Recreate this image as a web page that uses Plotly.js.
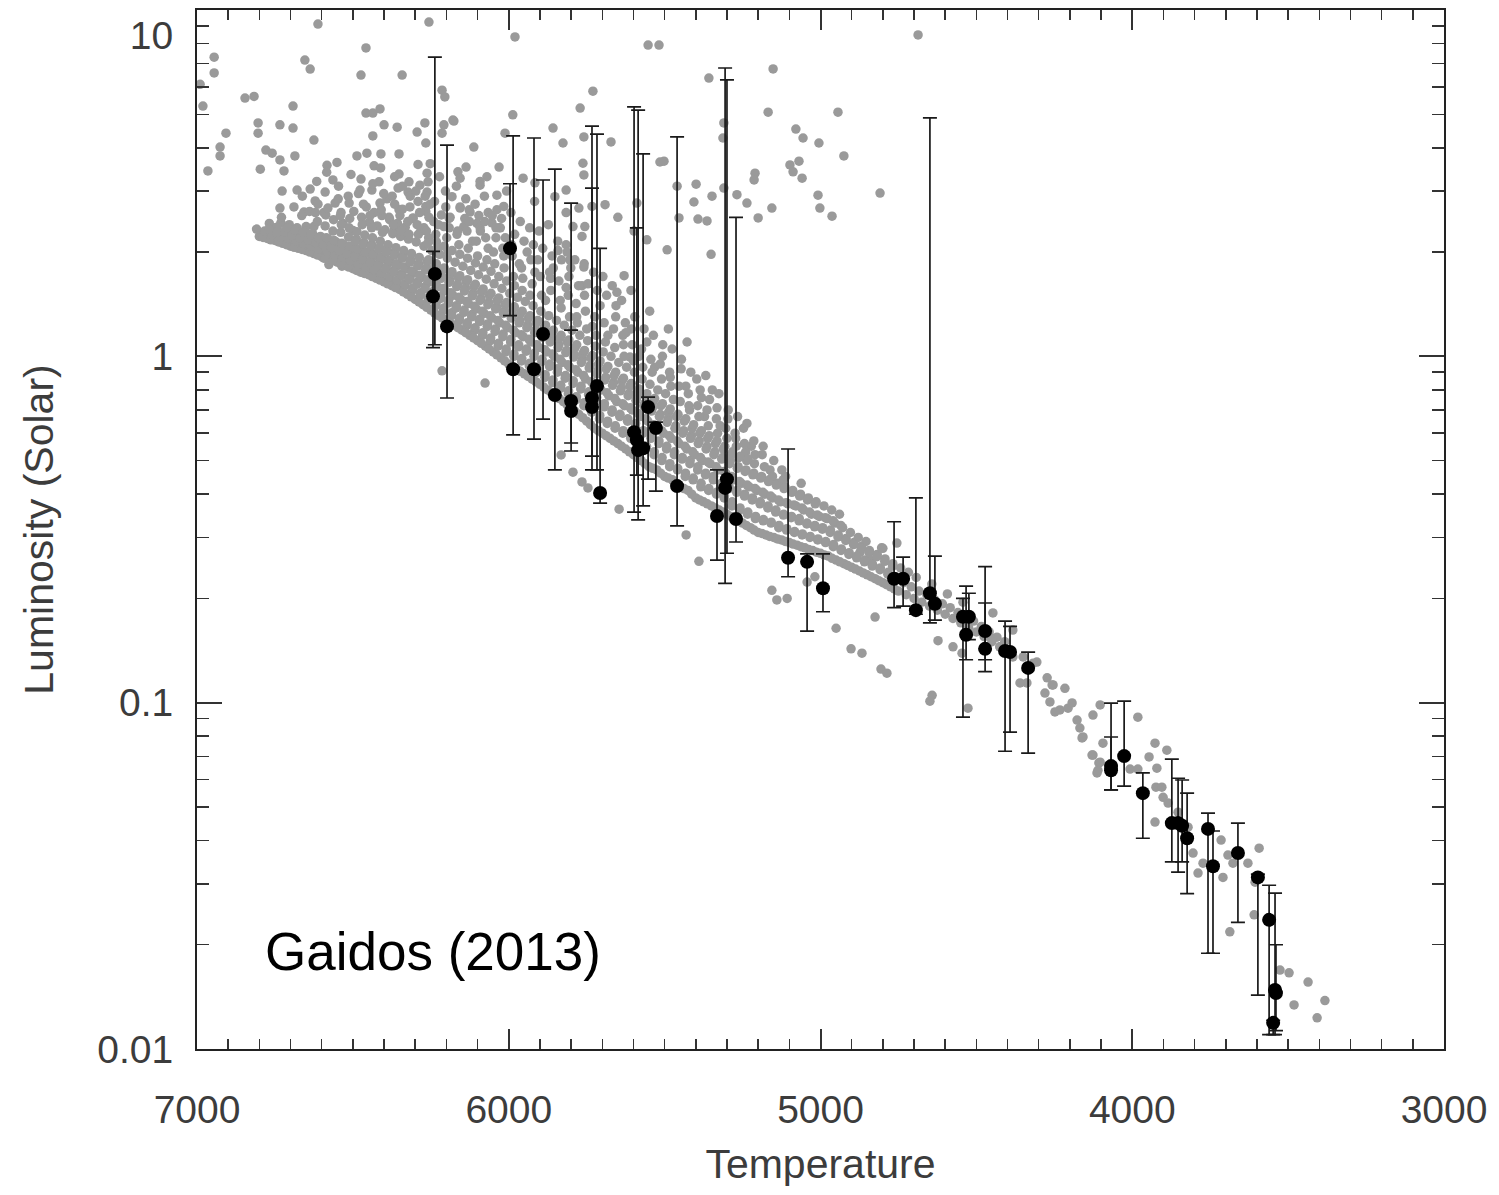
<!DOCTYPE html>
<html>
<head>
<meta charset="utf-8">
<script src="https://cdn.plot.ly/plotly-3.0.1.min.js"></script>
<style>html,body{margin:0;padding:0;background:#fff;}#chart{width:1499px;height:1195px;}</style>
</head>
<body>
<div id="chart"></div>
<script>
// ---- Black stars with error bars: temperature (K), luminosity (solar), upper / lower bounds ----
const blackTemp = [6237,6243,6198,5996,5986,5919,5890,5852,5800,5800,5733,5733,5717,5707,5598,5585,5589,5569,5553,5528,5460,5332,5306,5300,5271,5104,5043,4992,4764,4735,4694,4649,4633,4543,4524,4533,4472,4472,4408,4392,4334,4068,4068,4026,3966,3873,3853,3840,3824,3757,3741,3661,3597,3561,3542,3539,3548];
const blackLum = [1.73,1.49,1.22,2.05,0.918,0.918,1.16,0.773,0.743,0.695,0.758,0.714,0.821,0.403,0.604,0.536,0.573,0.543,0.714,0.621,0.422,0.346,0.417,0.442,0.339,0.262,0.255,0.214,0.228,0.228,0.185,0.207,0.193,0.177,0.177,0.157,0.161,0.143,0.141,0.140,0.126,0.0656,0.0638,0.0701,0.0548,0.0449,0.0449,0.0441,0.0406,0.0432,0.0337,0.0368,0.0313,0.0236,0.0148,0.0145,0.0119];
const lumUpper = [7.31,2.01,4.07,3.15,4.33,4.27,3.23,3.47,2.77,1.19,4.62,3.06,4.38,2.05,5.25,5.14,2.35,3.84,0.762,0.646,4.30,0.470,6.80,6.28,2.52,0.540,0.269,0.269,0.333,0.263,0.390,4.88,0.265,0.200,0.207,0.217,0.247,0.194,0.172,0.166,0.140,0.0997,0.0796,0.101,0.0627,0.0687,0.0605,0.0598,0.0548,0.0480,0.0426,0.0449,0.0320,0.0297,0.0282,0.0200,0.0121];
const lumLower = [1.08,1.06,0.758,1.31,0.593,0.577,0.659,0.470,0.533,0.562,0.470,0.515,0.470,0.377,0.355,0.337,0.454,0.370,0.442,0.408,0.324,0.258,0.221,0.270,0.291,0.231,0.161,0.183,0.188,0.190,0.180,0.170,0.173,0.0908,0.152,0.133,0.123,0.133,0.0724,0.0822,0.0715,0.0560,0.0560,0.0574,0.0406,0.0347,0.0324,0.0347,0.0281,0.0189,0.0189,0.0232,0.0143,0.0110,0.0110,0.0113,0.0110];

// ---- Gray comparison stars: [temperature (K), luminosity (solar)] ----
const grayStars = [
[6945,7.31],[6945,6.58],[6981,5.28],[6990,6.1],[6907,4.41],[6926,4.02],[6926,3.79],[6965,3.43],[6846,5.57],[6817,5.63],[6692,5.28],[6654,7.17],[6637,6.75],[6612,9.11],[6458,7.77],[6474,6.49],[6342,6.49],[6256,9.23],[5980,8.36],
[6804,4.72],[6804,4.41],[6734,4.66],[6692,4.56],[6779,3.94],[6759,3.86],[6797,3.47],[6721,3.43],[6734,3.69],[6686,3.79],[6625,4.21],[6727,3.00],[6734,2.68],[6679,3.02],[6637,3.04],[6766,2.21],[6747,2.35],[6702,2.31],[6731,2.43],[6657,2.14],[6657,2.61],[6650,2.37],[6621,2.81],[6625,2.37],[6593,1.92],[6577,1.84],[6589,2.98],[6593,2.60],[6583,3.56],[6564,3.23],[6551,3.63],[6557,2.77],[6538,2.60],[6532,2.42],[6512,2.77],[6500,2.31],[6506,2.00],[6535,1.82],[6487,3.79],[6458,5.04],[6436,5.04],[6413,5.18],[6455,3.86],[6436,4.33],[6400,4.66],[6410,3.84],[6432,3.55],[6416,3.19],[6477,3.02],[6439,3.02],[6413,2.77],[6384,2.52],[6368,2.31],[6352,2.28],[6358,4.59],[6352,3.84],[6352,3.36],[6355,3.06],[6352,2.65],[6320,3.19],[6323,2.98],[6307,2.51],[6294,4.44],[6291,3.58],[6285,3.12],[6266,4.13],[6269,4.72],[6262,3.38],[6259,3.19],[6262,2.98],[6266,2.71],[6272,2.35],[6214,5.87],[6205,5.61],[6176,4.78],[6214,4.41],[6208,4.66],[6163,3.41],[6137,3.52],[6112,4.02],[6031,3.52],[6156,3.27],[6092,3.12],[6070,3.30],[6038,2.92],[5987,4.98],[6012,4.41],[6182,2.89],[6156,2.68],[6124,2.61],[6188,2.52],[6208,2.37],[6144,2.37],[6102,2.42],[6092,2.35],[6038,2.65],[6016,2.71],[6054,2.43],[6031,2.35],
[6179,4.81],[5858,4.56],[5826,4.13],[5730,5.83],[5771,5.21],[5759,4.30],[5762,3.61],[5759,3.34],[5672,4.16],[5650,2.52],[5954,3.27],[5916,3.17],[5816,3.02],[5852,2.89],[5816,2.60],[5775,2.68],[5794,2.37],[5756,2.37],[5765,2.22],[5733,2.71],[5816,2.10],[5842,2.02],[5804,1.90],[5759,1.81],[5765,1.60],[5624,1.17],[5611,0.995],[5630,1.71],[5653,1.53],[5492,2.03],[5515,3.64],[5557,2.17],[5589,2.77],
[5553,7.92],[5518,7.92],[5358,6.36],[5502,3.66],[5691,2.74],[5598,2.30],[5460,3.10],[5399,3.14],[5406,2.79],[5454,2.51],[5393,2.49],
[4687,8.47],[4809,2.96],[5152,6.76],[4944,5.07],[5168,5.07],[5079,4.53],[5056,4.27],[5005,4.13],[4925,3.79],[5098,3.57],[5088,3.41],[5069,3.66],[5059,3.27],[5210,3.38],[5213,3.23],[5008,2.92],[5002,2.68],[4963,2.54],[5348,2.90],[5268,2.93],[5236,2.77],[5200,2.51],[5156,2.68],[5364,2.46],[5351,1.97],[5310,4.72],[5313,4.27],[5310,3.06],
[6214,0.908],[6076,0.837],[5832,0.519],[5794,0.463],[5765,0.434],[5746,0.417],[5646,0.362],[5431,0.305],[5390,0.256],[5156,0.211],[5140,0.198],[5107,0.200],[5043,0.223],[5018,0.231],[4950,0.164],[4902,0.143],[4867,0.139],[4825,0.1767],[4806,0.125],[4787,0.1217],[4642,0.105],[4649,0.101],[4623,0.151],[4575,0.145],[4546,0.139],[4527,0.0964],
[4873,0.272],[4841,0.258],[4800,0.279],[4755,0.289],[4273,0.118],[4257,0.1125],[4216,0.110],[4280,0.1066],[4264,0.1005],[4232,0.0953],[4206,0.0964],[4177,0.0891],[4168,0.0845],[4158,0.0796],[4126,0.0921],[4103,0.0985],[4126,0.0706],[4107,0.0670],[4113,0.0627],[4306,0.131],[4338,0.114],[4447,0.1816],[4434,0.1545],[4383,0.162],[4350,0.1355],
[4456,0.1545],[4424,0.145],[4383,0.1355],[4318,0.130],[4360,0.114],
[4254,0.1125],[4248,0.0940],[4193,0.0998],[4161,0.0791],[4094,0.0764],[4129,0.0706],[4110,0.0638],[4103,0.0673],[3982,0.0908],[3982,0.0643],[4007,0.0643],[3946,0.0697],[3927,0.0764],[3921,0.0647],[3889,0.0729],[3927,0.0452],[3924,0.0570],[3905,0.0570],[3901,0.0533],[3885,0.0513],[3853,0.0483],[3821,0.0437],[3805,0.0368],[3789,0.0322],[3773,0.0344],[3715,0.0401],[3693,0.0363],[3677,0.0344],[3687,0.0218],[3629,0.0344],[3593,0.0380],[3609,0.0244],[3606,0.0303],[3526,0.0169],[3497,0.0166],[3436,0.0156],[3481,0.0134],[3382,0.0138],[3407,0.0123],[3709,0.0313],
[6800,2.22],[6809,2.33],
[6775,2.19],[6784,2.28],[6768,2.42],
[6750,2.16],[6759,2.25],[6743,2.36],
[6725,2.12],[6734,2.2],[6718,2.3],[6729,2.52],
[6700,2.08],[6709,2.17],[6693,2.27],[6704,2.4],[6689,2.7],
[6675,2.05],[6684,2.13],[6668,2.22],[6679,2.35],[6664,2.55],
[6650,2.02],[6659,2.1],[6643,2.2],[6654,2.3],[6639,2.62],[6662,2.9],
[6625,1.98],[6634,2.06],[6618,2.15],[6629,2.26],[6614,2.45],
[6600,1.94],[6609,2.03],[6593,2.12],[6604,2.22],[6589,2.38],[6612,2.75],
[6575,1.91],[6584,1.99],[6568,2.08],[6579,2.18],[6564,2.3],[6587,2.56],
[6550,1.87],[6559,1.95],[6543,2.04],[6554,2.14],[6539,2.28],[6562,2.48],[6547,2.85],
[6525,1.83],[6534,1.91],[6518,2.0],[6529,2.1],[6514,2.21],[6537,2.4],
[6500,1.79],[6509,1.87],[6493,1.96],[6504,2.06],[6489,2.18],[6512,2.35],[6497,2.62],
[6475,1.75],[6484,1.83],[6468,1.92],[6479,2.02],[6464,2.13],[6487,2.29],[6472,2.52],[6482,2.95],
[6450,1.72],[6459,1.8],[6443,1.89],[6454,1.99],[6439,2.1],[6462,2.24],[6447,2.44],[6457,2.7],
[6425,1.68],[6434,1.76],[6418,1.85],[6429,1.95],[6414,2.06],[6437,2.2],[6422,2.38],[6432,2.6],
[6400,1.64],[6409,1.72],[6393,1.81],[6404,1.91],[6389,2.02],[6412,2.15],[6397,2.32],[6407,2.55],[6391,2.85],
[6375,1.6],[6384,1.68],[6368,1.77],[6379,1.87],[6364,1.98],[6387,2.1],[6372,2.26],[6382,2.48],[6366,2.75],
[6350,1.56],[6359,1.64],[6343,1.73],[6354,1.83],[6339,1.94],[6362,2.06],[6347,2.22],[6357,2.42],[6341,2.66],
[6325,1.51],[6334,1.6],[6318,1.69],[6329,1.79],[6314,1.9],[6337,2.02],[6322,2.18],[6332,2.36],[6316,2.9],
[6300,1.46],[6309,1.55],[6293,1.64],[6304,1.74],[6289,1.85],[6312,1.98],[6297,2.14],[6307,2.5],[6291,2.8],
[6275,1.41],[6284,1.5],[6268,1.59],[6279,1.69],[6264,1.8],[6287,1.93],[6272,2.08],[6282,2.3],[6266,2.62],
[6250,1.36],[6259,1.45],[6243,1.54],[6254,1.64],[6239,1.75],[6262,1.88],[6247,2.02],[6257,2.2],[6241,2.45],[6252,2.75],
[6225,1.31],[6234,1.4],[6218,1.49],[6229,1.59],[6214,1.7],[6237,1.83],[6222,1.97],[6232,2.14],[6216,2.56],
[6200,1.27],[6209,1.36],[6193,1.45],[6204,1.55],[6189,1.66],[6212,1.78],[6197,1.92],[6207,2.08],[6191,2.35],[6202,2.7],
[6175,1.23],[6184,1.31],[6168,1.4],[6179,1.5],[6164,1.61],[6187,1.73],[6172,1.87],[6182,2.02],[6166,2.25],
[6150,1.19],[6159,1.27],[6143,1.36],[6154,1.46],[6139,1.57],[6162,1.69],[6147,1.82],[6157,1.97],[6141,2.5],
[6125,1.15],[6134,1.23],[6118,1.32],[6129,1.42],[6114,1.52],[6137,1.64],[6122,1.77],[6132,1.92],[6116,2.15],[6127,2.65],
[6100,1.11],[6109,1.19],[6093,1.28],[6104,1.37],[6089,1.47],[6112,1.59],[6097,1.72],[6107,1.86],[6091,2.3],
[6075,1.07],[6084,1.15],[6068,1.24],[6079,1.33],[6064,1.43],[6087,1.54],[6072,1.67],[6082,1.81],[6066,2.05],[6077,2.45],
[6050,1.03],[6059,1.11],[6043,1.2],[6054,1.29],[6039,1.39],[6062,1.5],[6047,1.62],[6057,1.76],[6041,2.2],
[6025,0.99],[6034,1.07],[6018,1.16],[6029,1.25],[6014,1.35],[6037,1.45],[6022,1.57],[6032,1.7],[6016,1.95],[6027,2.35],
[6000,0.95],[6009,1.03],[5993,1.12],[6004,1.21],[5989,1.31],[6012,1.41],[5997,1.52],[6007,1.65],[5991,2.1],
[5975,0.92],[5984,1.0],[5968,1.08],[5979,1.17],[5964,1.27],[5987,1.37],[5972,1.48],[5982,1.6],[5966,1.85],
[5950,0.89],[5959,0.97],[5943,1.05],[5954,1.14],[5939,1.23],[5962,1.33],[5947,1.44],[5957,1.55],[5941,2.0],
[5925,0.86],[5934,0.94],[5918,1.02],[5929,1.1],[5914,1.19],[5937,1.29],[5922,1.4],[5932,1.5],[5916,1.75],
[5900,0.83],[5909,0.9],[5893,0.98],[5904,1.06],[5889,1.15],[5912,1.25],[5897,1.35],[5907,1.9],
[5875,0.8],[5884,0.87],[5868,0.95],[5879,1.03],[5864,1.12],[5887,1.21],[5872,1.31],[5882,1.45],[5866,1.68],
[5850,0.77],[5859,0.84],[5843,0.92],[5854,1.0],[5839,1.08],[5862,1.17],[5847,1.27],[5857,1.8],
[5825,0.74],[5834,0.81],[5818,0.88],[5829,0.96],[5814,1.04],[5837,1.13],[5822,1.23],[5832,1.38],[5816,1.58],
[5800,0.71],[5809,0.78],[5793,0.85],[5804,0.93],[5789,1.01],[5812,1.1],[5797,1.19],[5807,1.7],
[5775,0.68],[5784,0.75],[5768,0.82],[5779,0.9],[5764,0.98],[5787,1.06],[5772,1.15],[5782,1.3],
[5750,0.65],[5759,0.72],[5743,0.79],[5754,0.86],[5739,0.94],[5762,1.02],[5747,1.11],[5757,1.5],
[5725,0.62],[5734,0.69],[5718,0.76],[5729,0.83],[5714,0.91],[5737,0.99],[5722,1.07],[5732,1.22],
[5700,0.6],[5709,0.66],[5693,0.73],[5704,0.8],[5689,0.87],[5712,0.95],[5697,1.03],[5707,1.4],
[5675,0.58],[5684,0.64],[5668,0.7],[5679,0.77],[5664,0.84],[5687,0.92],[5672,1.0],[5682,1.15],
[5650,0.56],[5659,0.62],[5643,0.68],[5654,0.74],[5639,0.81],[5662,0.88],[5647,0.96],[5657,1.3],
[5625,0.54],[5634,0.6],[5618,0.66],[5629,0.72],[5614,0.78],[5637,0.85],[5622,0.93],[5632,1.08],
[5600,0.52],[5609,0.58],[5593,0.64],[5604,0.7],[5589,0.76],[5612,0.82],[5597,0.9],[5607,1.2],
[5575,0.5],[5584,0.56],[5568,0.61],[5579,0.67],[5564,0.73],[5587,0.79],[5572,0.86],[5582,1.0],
[5550,0.48],[5559,0.54],[5543,0.59],[5554,0.65],[5539,0.71],[5562,0.77],[5547,0.83],[5557,1.1],
[5525,0.47],[5534,0.52],[5518,0.57],[5529,0.62],[5514,0.68],[5537,0.74],[5522,0.8],[5532,0.93],
[5500,0.45],[5509,0.5],[5493,0.55],[5504,0.6],[5489,0.66],[5512,0.72],[5497,0.78],[5507,1.0],
[5475,0.44],[5484,0.48],[5468,0.53],[5479,0.58],[5464,0.63],[5487,0.69],[5472,0.75],[5482,0.87],
[5450,0.42],[5459,0.47],[5443,0.51],[5454,0.56],[5439,0.61],[5462,0.67],[5447,0.92],
[5425,0.41],[5434,0.45],[5418,0.5],[5429,0.54],[5414,0.59],[5437,0.65],[5422,0.72],[5432,0.82],
[5400,0.39],[5409,0.44],[5393,0.48],[5404,0.52],[5389,0.57],[5412,0.62],[5397,0.86],
[5375,0.38],[5384,0.42],[5368,0.46],[5379,0.5],[5364,0.55],[5387,0.6],[5372,0.67],[5382,0.76],
[5350,0.37],[5359,0.41],[5343,0.45],[5354,0.49],[5339,0.53],[5362,0.58],[5347,0.8],
[5325,0.36],[5334,0.4],[5318,0.43],[5329,0.47],[5314,0.51],[5337,0.56],[5322,0.63],[5332,0.71],
[5300,0.35],[5309,0.39],[5293,0.42],[5304,0.46],[5289,0.5],[5312,0.54],[5297,0.66],
[5275,0.34],[5284,0.37],[5268,0.41],[5279,0.44],[5264,0.48],[5287,0.52],[5272,0.58],
[5250,0.33],[5259,0.36],[5243,0.4],[5254,0.43],[5239,0.47],[5262,0.51],[5247,0.62],
[5225,0.32],[5234,0.35],[5218,0.39],[5229,0.42],[5214,0.46],[5237,0.5],[5222,0.55],
[5200,0.31],[5209,0.34],[5193,0.38],[5204,0.41],[5189,0.45],[5212,0.49],
[5175,0.305],[5184,0.335],[5168,0.37],[5179,0.4],[5164,0.44],[5187,0.52],
[5150,0.3],[5159,0.33],[5143,0.36],[5154,0.39],[5139,0.43],[5162,0.47],
[5125,0.295],[5134,0.32],[5118,0.35],[5129,0.38],[5114,0.42],
[5100,0.29],[5109,0.315],[5093,0.345],[5104,0.375],[5089,0.41],[5112,0.45],
[5075,0.285],[5084,0.31],[5068,0.34],[5079,0.37],[5064,0.4],
[5050,0.28],[5059,0.305],[5043,0.33],[5054,0.36],[5039,0.39],[5062,0.43],
[5025,0.275],[5034,0.3],[5018,0.325],[5029,0.35],[5014,0.38],
[5000,0.27],[5009,0.295],[4993,0.32],[5004,0.345],[4989,0.37],
[4975,0.265],[4984,0.29],[4968,0.315],[4979,0.34],[4964,0.36],
[4950,0.258],[4959,0.282],[4943,0.305],[4954,0.33],[4939,0.35],
[4925,0.252],[4934,0.275],[4918,0.298],[4929,0.32],
[4900,0.246],[4909,0.268],[4893,0.29],[4904,0.31],
[4875,0.24],[4884,0.262],[4868,0.283],[4879,0.3],
[4850,0.234],[4859,0.255],[4843,0.275],[4854,0.292],
[4825,0.228],[4834,0.248],[4818,0.268],
[4800,0.222],[4809,0.242],[4793,0.26],[4804,0.28],
[4775,0.216],[4784,0.235],[4768,0.252],
[4750,0.21],[4759,0.228],[4743,0.245],
[4725,0.205],[4734,0.222],[4718,0.238],
[4700,0.2],[4709,0.216],[4693,0.23],
[4675,0.195],[4684,0.21],
[4650,0.19],[4659,0.205],[4643,0.22],
[4625,0.185],[4634,0.198],
[4600,0.18],[4609,0.193],[4593,0.206],
[4575,0.175],[4584,0.188],
[4550,0.17],[4559,0.182],[4543,0.195],
[4525,0.165],[4534,0.177],
[4500,0.16],[4509,0.172],
[4475,0.155],[4484,0.166],
[4450,0.15],[4459,0.16],
[4425,0.145],
[4400,0.14],[4409,0.15],
[6620,2.6],[6616,3.2],[6580,2.68],[6584,3.4],[6540,2.55],[6546,3.1],[6510,2.5],[6515,2.9],[6506,3.35],
[6470,2.4],[6466,2.75],[6474,3.25],[6440,2.35],[6445,2.55],[6436,3.15],[6405,2.28],[6409,2.65],[6401,2.95],[6411,3.5],
[6370,2.4],[6374,2.9],[6366,3.3],[6345,2.3],[6349,2.55],[6341,3.1],[6320,2.25],[6324,2.45],[6317,2.7],
[6290,2.25],[6294,2.4],[6286,2.6],[6298,3.0],[6260,2.12],[6264,2.3],[6256,2.52],[6268,2.9],[6252,3.6],
[6230,2.05],[6234,2.25],[6226,2.4],[6238,2.8],[6222,3.3],[6195,2.0],[6199,2.2],[6191,2.5],[6203,3.0],
[6160,2.1],[6164,2.3],[6156,2.7],[6168,3.1],[6130,2.05],[6134,2.3],[6126,2.45],[6138,2.85],
[6100,1.95],[6104,2.15],[6096,2.55],[6108,2.75],[6092,3.2],[6070,1.9],[6074,2.2],[6066,2.6],[6078,2.9],
[6045,1.85],[6049,2.0],[6041,2.35],[6053,2.55],[6015,1.8],[6019,2.05],[6011,2.2],[6023,2.5],[6007,3.0],
[5985,1.7],[5989,1.95],[5981,2.25],[5993,2.6],[5955,1.68],[5959,1.8],[5951,2.15],[5963,2.45],
[5925,1.62],[5929,1.9],[5921,2.1],[5933,2.35],[5917,2.8],[5895,1.5],[5899,1.7],[5891,2.05],[5903,2.3],
[5865,1.55],[5869,1.75],[5861,1.95],[5873,2.4],[5835,1.45],[5839,1.65],[5831,1.9],[5843,2.15],
[5805,1.3],[5809,1.5],[5801,1.8],[5813,2.0],[5780,1.25],[5784,1.42],[5776,1.6],[5788,1.9],
[5750,1.2],[5754,1.35],[5746,1.62],[5758,1.85],[5720,1.15],[5724,1.3],[5716,1.55],[5728,1.75],
[5690,1.1],[5694,1.25],[5686,1.5],[5698,1.7],[5660,1.06],[5664,1.2],[5656,1.4],[5668,1.6],
[5630,1.0],[5634,1.15],[5626,1.25],[5638,1.45],[5600,0.97],[5604,1.08],[5596,1.3],[5608,1.55],
[5570,0.93],[5574,1.05],[5566,1.2],[5540,0.9],[5544,0.98],[5536,1.15],[5548,1.35],
[5510,0.86],[5514,0.95],[5506,1.08],[5480,0.82],[5484,0.9],[5476,1.05],[5488,1.2],
[5450,0.74],[5454,0.82],[5446,0.98],[5420,0.7],[5424,0.78],[5416,0.9],[5428,1.1],
[5390,0.67],[5394,0.72],[5386,0.8],[5360,0.63],[5364,0.7],[5356,0.75],[5368,0.88],
[5330,0.6],[5334,0.66],[5326,0.78],[5300,0.58],[5304,0.62],[5296,0.7],
[5270,0.55],[5274,0.6],[5266,0.67],[5240,0.53],[5244,0.56],[5236,0.64],
[5210,0.52],[5214,0.57],[5180,0.48],[5184,0.55],[5150,0.5],[5154,0.45],[5120,0.44],[5124,0.47],
[6788,2.205],[6783,2.3],
[6763,2.17],[6758,2.24],[6769,2.33],
[6738,2.14],[6733,2.22],[6744,2.28],
[6713,2.1],[6708,2.19],[6719,2.28],[6710,2.35],
[6688,2.065],[6683,2.15],[6694,2.24],[6685,2.32],
[6663,2.035],[6658,2.115],[6669,2.2],[6660,2.28],
[6638,2.0],[6633,2.08],[6644,2.17],[6635,2.25],
[6613,1.96],[6608,2.045],[6619,2.13],[6610,2.2],
[6588,1.925],[6583,2.01],[6594,2.1],[6585,2.2],
[6563,1.89],[6558,1.97],[6569,2.06],[6560,2.16],
[6538,1.85],[6533,1.93],[6544,2.02],[6535,2.12],
[6513,1.81],[6508,1.89],[6519,1.98],[6510,2.08],
[6488,1.77],[6483,1.85],[6494,1.94],[6485,2.04],[6492,2.15],
[6463,1.735],[6458,1.815],[6469,1.905],[6460,2.0],[6467,2.11],
[6438,1.7],[6433,1.78],[6444,1.87],[6435,1.97],[6442,2.08],
[6413,1.66],[6408,1.74],[6419,1.83],[6410,1.93],[6417,2.04],
[6388,1.62],[6383,1.7],[6394,1.79],[6385,1.89],[6392,2.0],
[6363,1.58],[6358,1.66],[6369,1.75],[6360,1.85],[6367,1.96],
[6338,1.535],[6333,1.62],[6344,1.71],[6335,1.81],[6342,1.92],
[6313,1.485],[6308,1.575],[6319,1.665],[6310,1.765],[6317,1.875],
[6288,1.435],[6283,1.525],[6294,1.615],[6285,1.715],[6292,1.825],
[6263,1.385],[6258,1.475],[6269,1.565],[6260,1.665],[6267,1.775],[6257,1.9],
[6238,1.335],[6233,1.425],[6244,1.515],[6235,1.615],[6242,1.725],[6232,1.85],
[6213,1.29],[6208,1.38],[6219,1.47],[6210,1.57],[6217,1.68],[6207,1.8],
[6188,1.25],[6183,1.335],[6194,1.425],[6185,1.525],[6192,1.635],[6182,1.755],
[6163,1.21],[6158,1.29],[6169,1.38],[6160,1.48],[6167,1.59],[6157,1.71],
[6138,1.17],[6133,1.25],[6144,1.34],[6135,1.44],[6142,1.545],[6132,1.665],
[6113,1.13],[6108,1.21],[6119,1.3],[6110,1.395],[6117,1.495],[6107,1.615],
[6088,1.09],[6083,1.17],[6094,1.26],[6085,1.35],[6092,1.45],[6082,1.565],
[6063,1.05],[6058,1.13],[6069,1.22],[6060,1.31],[6067,1.41],[6057,1.52],
[6038,1.01],[6033,1.09],[6044,1.18],[6035,1.27],[6042,1.37],[6032,1.475],
[6013,0.97],[6008,1.05],[6019,1.14],[6010,1.23],[6017,1.33],[6007,1.43],
[5988,0.935],[5983,1.015],[5994,1.1],[5985,1.19],[5992,1.29],[5982,1.39],
[5963,0.905],[5958,0.985],[5969,1.065],[5960,1.155],[5967,1.25],[5957,1.35],
[5938,0.875],[5933,0.955],[5944,1.035],[5935,1.12],[5942,1.21],[5932,1.31],
[5913,0.845],[5908,0.92],[5919,1.0],[5910,1.08],[5917,1.17],[5907,1.27],
[5888,0.815],[5883,0.885],[5894,0.965],[5885,1.045],[5892,1.135],[5882,1.23],
[5863,0.785],[5858,0.855],[5869,0.935],[5860,1.015],[5867,1.1],[5857,1.19],
[5838,0.755],[5833,0.825],[5844,0.9],[5835,0.98],[5842,1.06],[5832,1.15],
[5813,0.725],[5808,0.795],[5819,0.865],[5810,0.945],[5817,1.025],[5807,1.115],
[5788,0.695],[5783,0.765],[5794,0.835],[5785,0.915],[5792,0.995],[5782,1.08],
[5763,0.665],[5758,0.735],[5769,0.805],[5760,0.88],[5767,0.96],[5757,1.04],
[5738,0.635],[5733,0.705],[5744,0.775],[5735,0.845],[5742,0.925],[5732,1.005],
[5713,0.61],[5708,0.675],[5719,0.745],[5710,0.815],[5717,0.89],[5707,0.97],
[5688,0.59],[5683,0.65],[5694,0.715],[5685,0.785],[5692,0.855],[5682,0.935],
[5663,0.57],[5658,0.63],[5669,0.69],[5660,0.755],[5667,0.825],[5657,0.9],
[5638,0.55],[5633,0.61],[5644,0.67],[5635,0.73],[5642,0.795],[5632,0.865],
[5613,0.53],[5608,0.59],[5619,0.65],[5610,0.71],[5617,0.77],[5607,0.835],
[5588,0.51],[5583,0.57],[5594,0.625],[5585,0.685],[5592,0.745],[5582,0.805],
[5563,0.49],[5558,0.55],[5569,0.6],[5560,0.66],[5567,0.72],[5557,0.78],
[5538,0.475],[5533,0.53],[5544,0.58],[5535,0.635],[5542,0.695],[5532,0.755],
[5513,0.46],[5508,0.51],[5519,0.56],[5510,0.61],[5517,0.67],[5507,0.73],
[5488,0.445],[5483,0.49],[5494,0.54],[5485,0.59],[5492,0.645],[5482,0.705],
[5463,0.43],[5458,0.475],[5469,0.52],[5460,0.57],[5467,0.62],[5457,0.68],
[5438,0.415],[5433,0.46],[5444,0.505],[5435,0.55],[5442,0.6],[5432,0.66],
[5413,0.4],[5408,0.445],[5419,0.49],[5410,0.53],[5417,0.58],[5407,0.635],
[5388,0.385],[5383,0.43],[5394,0.47],[5385,0.51],[5392,0.56],[5382,0.61],
[5363,0.375],[5358,0.415],[5369,0.455],[5360,0.495],[5367,0.54],[5357,0.59],
[5338,0.365],[5333,0.405],[5344,0.44],[5335,0.48],[5342,0.52],[5332,0.57],
[5313,0.355],[5308,0.395],[5319,0.425],[5310,0.465],[5317,0.505],[5307,0.55],
[5288,0.345],[5283,0.38],[5294,0.415],[5285,0.45],[5292,0.49],[5282,0.53],
[5263,0.335],[5258,0.365],[5269,0.405],[5260,0.435],[5267,0.475],[5257,0.515],
[5238,0.325],[5233,0.355],[5244,0.395],[5235,0.425],[5242,0.465],[5232,0.505],
[5213,0.315],[5208,0.345],[5219,0.385],[5210,0.415],[5217,0.455],
[5188,0.308],[5183,0.338],[5194,0.375],[5185,0.405],[5192,0.445],
[5163,0.302],[5158,0.332],[5169,0.365],[5160,0.395],[5167,0.435],
[5138,0.297],[5133,0.325],[5144,0.355],[5135,0.385],[5142,0.425],
[5113,0.292],[5108,0.318],[5119,0.348],[5110,0.378],[5117,0.415],
[5088,0.287],[5083,0.312],[5094,0.342],[5085,0.372],[5092,0.405],
[5063,0.282],[5058,0.307],[5069,0.335],[5060,0.365],[5067,0.395],
[5038,0.277],[5033,0.302],[5044,0.328],[5035,0.355],[5042,0.385],
[5013,0.272],[5008,0.297],[5019,0.322],[5010,0.348],[5017,0.375],
[4988,0.267],[4983,0.292],[4994,0.317],[4985,0.342],
[4963,0.261],[4958,0.286],[4969,0.31],[4960,0.335],
[4938,0.255],[4933,0.278],[4944,0.301],[4935,0.325],
[4913,0.249],[4908,0.271],[4919,0.294],
[4888,0.243],[4883,0.265],[4894,0.286],
[4863,0.237],[4858,0.258],[4869,0.279],
[4838,0.231],[4833,0.251],[4844,0.271],
[4813,0.225],[4808,0.245],[4819,0.264],
[4788,0.219],[4783,0.238],[4794,0.256],
[4763,0.213],[4758,0.231],[4769,0.248]
];

// ---- Axis tick labels ----
const xTickVals = [7000,6000,5000,4000,3000];
const xTickText = ['7000','6000','5000','4000','3000'];
const yTickVals = [0.01,0.1,1,10];
const yTickText = ['0.01','0.1','1','<br>10'];
const yMinorVals = [0.02,0.03,0.04,0.05,0.06,0.07,0.08,0.09,0.2,0.3,0.4,0.5,0.6,0.7,0.8,0.9,2,3,4,5,6,7,8,9];

const FONT = 'Liberation Sans, Arial, Helvetica, sans-serif';

const grayTrace = {
  type: 'scatter', mode: 'markers',
  x: grayStars.map(p => p[0]),
  y: grayStars.map(p => p[1]),
  marker: {color: '#9a9a9a', size: 9.5, line: {width: 0}},
  hoverinfo: 'skip', showlegend: false
};

const blackTrace = {
  type: 'scatter', mode: 'markers',
  x: blackTemp, y: blackLum,
  marker: {color: '#000000', size: 14, line: {width: 0}},
  error_y: {
    type: 'data', symmetric: false,
    array: blackLum.map((v, i) => lumUpper[i] - v),
    arrayminus: blackLum.map((v, i) => v - lumLower[i]),
    color: '#1a1a1a', thickness: 1.7, width: 7
  },
  showlegend: false
};

const axisCommon = {
  showline: true, linecolor: '#222', linewidth: 2, mirror: 'ticks',
  ticks: 'inside', tickcolor: '#333', tickwidth: 2,
  showgrid: false, zeroline: false,
  tickfont: {family: FONT, size: 39, color: '#3c3c3c'}
};

const layout = {
  width: 1499, height: 1195,
  margin: {l: 197, r: 55, t: 10, b: 146, pad: 0},
  paper_bgcolor: '#ffffff', plot_bgcolor: '#ffffff',
  showlegend: false,
  xaxis: Object.assign({}, axisCommon, {
    range: [7000, 3000],
    tickmode: 'array', tickvals: xTickVals, ticktext: xTickText,
    ticklen: 20, ticklabelstandoff: 25,
    minor: {dtick: 100, tick0: 0, ticks: 'inside', ticklen: 10, tickwidth: 1.5, tickcolor: '#333', showgrid: false},
    title: {text: 'Temperature', font: {family: FONT, size: 41, color: '#3c3c3c'}, standoff: 20}
  }),
  yaxis: Object.assign({}, axisCommon, {
    type: 'log', range: [-2, 1],
    tickmode: 'array', tickvals: yTickVals, ticktext: yTickText,
    ticklen: 25, ticklabelstandoff: 14,
    minor: {tickmode: 'array', tickvals: yMinorVals, ticks: 'inside', ticklen: 12, tickwidth: 1.5, tickcolor: '#333', showgrid: false},
    title: {text: 'Luminosity (Solar)', font: {family: FONT, size: 41, color: '#3c3c3c'}, standoff: 31}
  }),
  annotations: [{
    text: 'Gaidos (2013)', xref: 'paper', yref: 'paper',
    x: 0.053, y: 0.0934, xanchor: 'left', yanchor: 'middle',
    showarrow: false, font: {family: FONT, size: 53, color: '#000000'}
  }]
};

Plotly.newPlot('chart', [grayTrace, blackTrace], layout, {displayModeBar: false, staticPlot: true});
</script>
</body>
</html>
